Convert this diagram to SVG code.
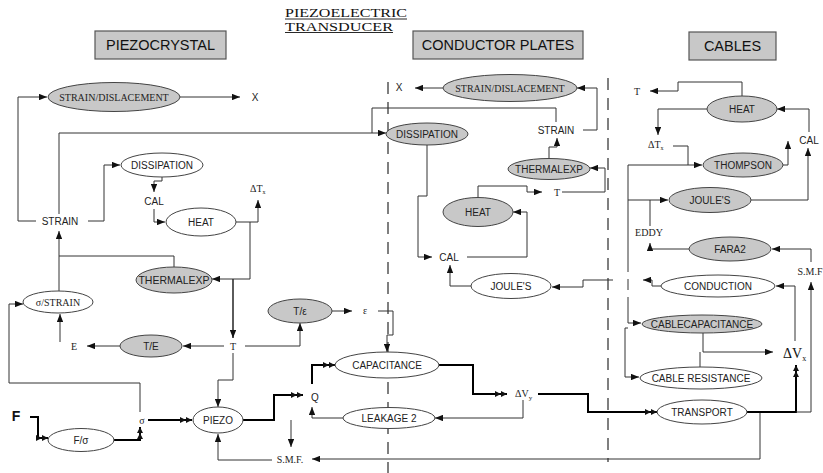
<svg xmlns="http://www.w3.org/2000/svg" width="823" height="473" viewBox="0 0 823 473">
<defs>
<marker id="a" viewBox="0 0 10 8" refX="10" refY="4" markerWidth="8" markerHeight="6.4" orient="auto" markerUnits="userSpaceOnUse"><path d="M0,0 L10,4 L0,8 z" fill="#111"/></marker>
<marker id="d" viewBox="0 0 16 8" refX="16" refY="4" markerWidth="12" markerHeight="6" orient="auto" markerUnits="userSpaceOnUse"><path d="M0,0 L8,4 L0,8 z M8,0 L16,4 L8,8 z" fill="#111"/></marker>
</defs>
<style>
.g{fill:#c8c8c8;stroke:#444;stroke-width:1}
.w{fill:#fff;stroke:#444;stroke-width:1}
.hb{fill:#c8c8c8;stroke:#555;stroke-width:1.2}
.ht{font-family:"Liberation Sans",Arial,sans-serif;font-size:14.5px;fill:#111;text-anchor:middle}
.s{font-family:"Liberation Sans",Arial,sans-serif;font-size:10px;fill:#222;text-anchor:middle}
.r{font-family:"Liberation Serif","Times New Roman",serif;font-size:10px;fill:#222;text-anchor:middle}
.tt{font-family:"Liberation Serif","Times New Roman",serif;font-size:13.5px;fill:#111}
.l{fill:none;stroke:#333;stroke-width:1}
.t{fill:none;stroke:#000;stroke-width:2}
.ar{marker-end:url(#a)}
.dr{marker-end:url(#d)}
.dash{fill:none;stroke:#555;stroke-width:1.5;stroke-dasharray:12 8}
</style>
<rect width="823" height="473" fill="#fff"/>

<g id="title">
<text class="tt" x="285" y="17" textLength="122" lengthAdjust="spacingAndGlyphs">PIEZOELECTRIC</text>
<text class="tt" x="285" y="30.5" textLength="108" lengthAdjust="spacingAndGlyphs">TRANSDUCER</text>
<line x1="285" y1="19" x2="407" y2="19" stroke="#111" stroke-width="0.9"/>
<line x1="285" y1="32.5" x2="393" y2="32.5" stroke="#111" stroke-width="0.9"/>
</g>

<g id="hdr-piezo"><rect class="hb" x="95" y="31" width="131" height="28"/><text class="ht" x="160.5" y="50">PIEZOCRYSTAL</text></g>
<g id="hdr-plates"><rect class="hb" x="413" y="31" width="170" height="28"/><text class="ht" x="498" y="50">CONDUCTOR PLATES</text></g>
<g id="hdr-cables"><rect class="hb" x="689" y="32" width="87" height="28"/><text class="ht" x="732.5" y="51">CABLES</text></g>

<g id="dividers">
<line class="dash" x1="388" y1="82" x2="388" y2="473"/>
<line class="dash" x1="608" y1="78" x2="608" y2="462"/>
</g>

<g id="connectors">
<path class="l ar" d="M36 221 L18 221 L18 97 L47 97"/>
<path class="l ar" d="M180 97 L240 97"/>
<path class="l ar" d="M59 214 L59 133 L386 133"/>
<path class="l ar" d="M88 221 L104 221 L104 165 L120 165"/>
<path class="l ar" d="M162 177 L162 181 L154 181 L154 192"/>
<path class="l ar" d="M154 209 L154 222 L165 222"/>
<path class="l ar" d="M236 222 L258 222 L258 200"/>
<path class="l ar" d="M250 222 L250 279 L212 279"/>
<path class="l" d="M174 267 L174 256 L59 256"/>
<path class="l ar" d="M59 291 L59 231"/>
<path class="l ar" d="M233 279 L233 338" style="stroke-width:1.6"/>
<path class="l ar" d="M224 346 L183 346"/>
<path class="l ar" d="M120 346 L87 346"/>
<path class="l ar" d="M60 342 L60 314"/>
<path class="l ar" d="M245 346 L300 346 L300 323"/>
<path class="l ar" d="M332 311 L352 311"/>
<path class="l ar" d="M378 311 L393 311 L393 335 L387 335 L387 352"/>
<path class="l ar" d="M233 353 L233 380 L218 380 L218 407"/>
<path class="l ar" d="M140 412 L140 383 L9 383 L9 304 L23 304"/>
<path class="t dr" d="M148 420 L192 420"/>
<path class="t dr" d="M30 417 L38 417 L38 438 L48 438"/>
<path class="t dr" d="M113 440 L140 440 L140 427"/>
<path class="l ar" d="M272 460 L218 460 L218 434"/>
<path class="t dr" d="M243 420 L274 420 L274 395 L303 395"/>
<path class="l ar" d="M291 420 L291 447"/>
<path class="l ar" d="M760 412 L760 459 L312 459"/>
<path class="t dr" d="M312 384 L312 365 L335 365"/>
<path class="t dr" d="M439 365 L473 365 L473 394 L507 394"/>
<path class="t dr" d="M538 394 L588 394 L588 412 L657 412"/>
<path class="l ar" d="M523 400 L523 418 L435 418"/>
<path class="l ar" d="M343 418 L312 418 L312 407"/>
<path class="l ar" d="M443 88 L415 88"/>
<path class="l ar" d="M583 130 L597 130 L597 88 L577 88"/>
<path class="l" d="M556 122 L556 108 L372 108 L372 133"/>
<path class="l ar" d="M427 145 L427 196 L418 196 L418 257 L432 257"/>
<path class="l ar" d="M467 257 L527 257 L527 212 L513 212"/>
<path class="l ar" d="M478 198 L478 186 L527 186 L527 192 L542 192"/>
<path class="l ar" d="M562 192 L605 192 L605 168 L590 168"/>
<path class="l ar" d="M549 159 L549 147 L557 147 L557 138"/>
<path class="l ar" d="M471 286 L450 286 L450 265"/>
<path class="t dr" d="M747 412 L796 412 L796 365"/>
<path class="l ar" d="M796 412 L811 412 L811 282"/>
<path class="l ar" d="M795 341 L795 286 L776 286"/>
<path class="l ar" d="M661 286 L652 286 L652 280 L643 280"/>
<path class="l ar" d="M613 280 L583 280 L583 287 L552 287"/>
<path class="l ar" d="M811 262 L811 249 L772 249"/>
<path class="l ar" d="M689 249 L650 249 L650 243"/>
<path class="l" d="M650 226 L650 200"/>
<path class="l ar" d="M628 200 L668 200"/>
<path class="l ar" d="M673 146 L688 146 L688 165 L702 165"/>
<path class="l" d="M628 165 L688 165"/>
<path class="l ar" d="M628 165 L628 272 M628 279 L628 290 M628 297 L628 323 L641 323"/>
<path class="l ar" d="M628 328 L625 328 L625 377 L639 377"/>
<path class="l ar" d="M703 333 L703 352 L773 352"/>
<path class="l" d="M700 367 L700 352"/>
<path class="l ar" d="M751 200 L808 200 L808 148"/>
<path class="l ar" d="M809 132 L809 109 L777 109"/>
<path class="l ar" d="M742 96 L742 82 L678 82 L678 91 L650 91"/>
<path class="l ar" d="M707 109 L658 109 L658 135"/>
<path class="l ar" d="M783 165 L788 165 L788 141"/>
</g>

<g id="n-strain-disp-p"><ellipse class="g" cx="114" cy="97" rx="66" ry="14.5"/><text class="r" x="114" y="100.5">STRAIN/DISLACEMENT</text></g>
<g id="t-x-p"><text class="s" x="255" y="101">X</text></g>
<g id="t-strain-p"><text class="s" x="60" y="225">STRAIN</text></g>
<g id="n-dissipation-p"><ellipse class="w" cx="162" cy="165" rx="41" ry="12"/><text class="s" x="162" y="168.5">DISSIPATION</text></g>
<g id="t-cal-p"><text class="s" x="154" y="205">CAL</text></g>
<g id="n-heat-p"><ellipse class="w" cx="201" cy="222" rx="35" ry="14"/><text class="s" x="201" y="225.5">HEAT</text></g>
<g id="t-dtx-p"><text class="r" x="250" y="192" style="text-anchor:start">ΔT<tspan font-size="6" dy="2">x</tspan></text></g>
<g id="n-thermalexp-p"><ellipse class="g" cx="174" cy="280" rx="38" ry="13"/><text class="s" x="174" y="283.5" style="font-size:10.5px">THERMALEXP</text></g>
<g id="n-sigma-strain"><ellipse class="w" cx="58" cy="302" rx="35" ry="11"/><text class="r" x="58" y="305.5">σ/STRAIN</text></g>
<g id="t-e"><text class="r" x="74" y="350">E</text></g>
<g id="n-te"><ellipse class="g" cx="151" cy="346" rx="31" ry="11"/><text class="s" x="151" y="349.5">T/E</text></g>
<g id="t-t-p"><text class="r" x="233" y="349.5">T</text></g>
<g id="n-tepsilon"><ellipse class="g" cx="300" cy="311" rx="32" ry="12"/><text class="s" x="300" y="314.5">T/ε</text></g>
<g id="t-eps"><text class="r" x="365" y="314">ε</text></g>
<g id="t-f"><text x="16" y="421" font-family="Liberation Sans,sans-serif" font-size="14" font-weight="bold" fill="#111" text-anchor="middle">F</text></g>
<g id="n-fsigma"><ellipse class="w" cx="81" cy="440" rx="33" ry="11.5"/><text class="s" x="81" y="443.5">F/σ</text></g>
<g id="t-sigma"><text class="r" x="142" y="424">σ</text></g>
<g id="n-piezo"><ellipse class="w" cx="218" cy="420" rx="25" ry="13"/><text class="s" x="218" y="423.5">PIEZO</text></g>
<g id="t-smf-p"><text class="r" x="290" y="463">S.M.F.</text></g>
<g id="t-q"><text class="s" x="315" y="401">Q</text></g>
<g id="n-capacitance"><ellipse class="w" cx="387" cy="365" rx="52" ry="13"/><text class="s" x="387" y="368.5">CAPACITANCE</text></g>
<g id="n-leakage"><ellipse class="w" cx="389" cy="418" rx="46" ry="10.5"/><text class="s" x="389" y="421.5">LEAKAGE 2</text></g>
<g id="t-dvy"><text class="r" x="515" y="397" style="text-anchor:start">ΔV<tspan font-size="7" dy="3">y</tspan></text></g>

<g id="t-x-c"><text class="s" x="399" y="91">X</text></g>
<g id="n-strain-disp-c"><ellipse class="g" cx="510" cy="88" rx="67" ry="13.5"/><text class="r" x="510" y="91.5">STRAIN/DISLACEMENT</text></g>
<g id="t-strain-c"><text class="s" x="556" y="134">STRAIN</text></g>
<g id="n-dissipation-c"><ellipse class="g" cx="427" cy="134" rx="41" ry="11"/><text class="s" x="427" y="137.5">DISSIPATION</text></g>
<g id="n-thermalexp-c"><ellipse class="g" cx="549" cy="169" rx="41" ry="10.5"/><text class="s" x="549" y="172.5">THERMALEXP</text></g>
<g id="t-t-c"><text class="r" x="557" y="196">T</text></g>
<g id="n-heat-c"><ellipse class="g" cx="478" cy="212" rx="35" ry="14.5"/><text class="s" x="478" y="215.5">HEAT</text></g>
<g id="t-cal-c"><text class="s" x="449" y="261">CAL</text></g>
<g id="n-joules-c"><ellipse class="w" cx="511" cy="286" rx="40" ry="12.5"/><text class="s" x="511" y="289.5">JOULE'S</text></g>

<g id="t-t-k"><text class="r" x="637" y="95">T</text></g>
<g id="n-heat-k"><ellipse class="g" cx="742" cy="109" rx="35" ry="13"/><text class="s" x="742" y="112.5">HEAT</text></g>
<g id="t-cal-k"><text class="s" x="809" y="144">CAL</text></g>
<g id="t-dtx-k"><text class="r" x="648" y="148" style="text-anchor:start">ΔT<tspan font-size="6" dy="2">x</tspan></text></g>
<g id="n-thompson"><ellipse class="g" cx="743" cy="165" rx="40" ry="12"/><text class="s" x="743" y="168.5">THOMPSON</text></g>
<g id="n-joules-k"><ellipse class="g" cx="710" cy="200" rx="41" ry="12.5"/><text class="s" x="710" y="203.5">JOULE'S</text></g>
<g id="t-eddy"><text class="r" x="649" y="236">EDDY</text></g>
<g id="n-fara2"><ellipse class="g" cx="730" cy="249" rx="41" ry="12"/><text class="s" x="730" y="252.5">FARA2</text></g>
<g id="t-smf-k"><text class="r" x="810" y="274.5">S.M.F</text></g>
<g id="n-conduction"><ellipse class="w" cx="718" cy="286" rx="57" ry="11"/><text class="s" x="718" y="289.5">CONDUCTION</text></g>
<g id="n-cablecap"><ellipse class="g" cx="702" cy="324" rx="60" ry="9"/><text class="s" x="702" y="327.5">CABLECAPACITANCE</text></g>
<g id="t-dvx"><text x="783" y="358" font-family="Liberation Serif,serif" font-size="14" fill="#111">ΔV<tspan font-size="8" dy="3">x</tspan></text></g>
<g id="n-cableres"><ellipse class="w" cx="701" cy="378" rx="61" ry="11"/><text class="s" x="701" y="381.5">CABLE RESISTANCE</text></g>
<g id="n-transport"><ellipse class="w" cx="702" cy="412" rx="45" ry="12"/><text class="s" x="702" y="415.5">TRANSPORT</text></g>
</svg>
